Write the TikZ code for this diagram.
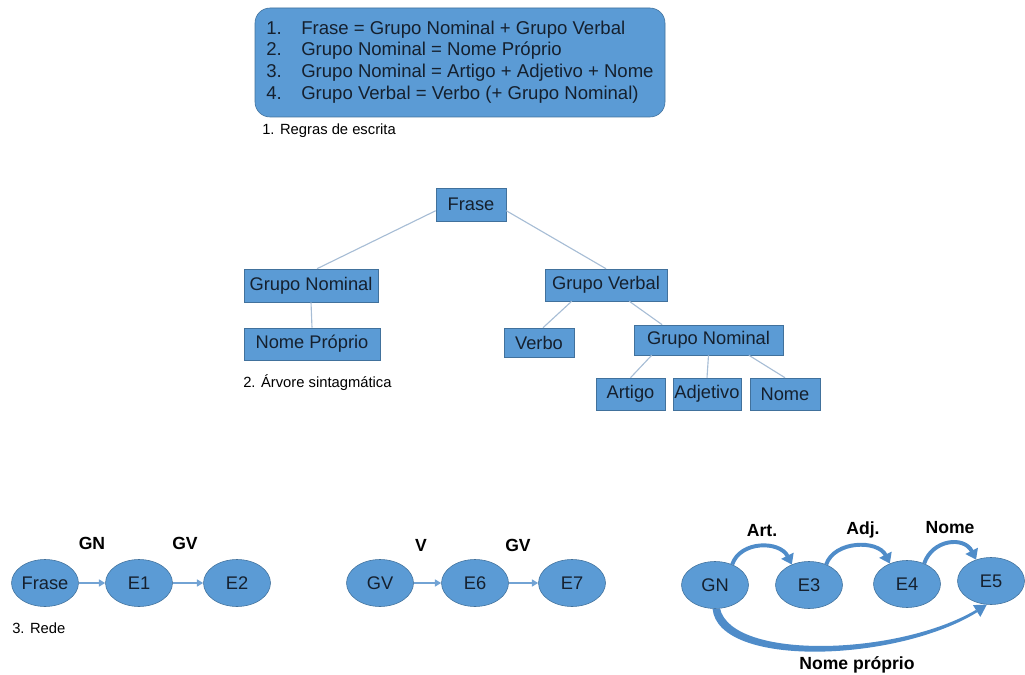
\documentclass[tikz,border=0pt]{standalone}
\usepackage{fontspec}
\setmainfont{Liberation Sans}
\usetikzlibrary{calc,positioning,shapes.geometric,arrows.meta}
\newdimen\pxu \pxu=0.025cm
\definecolor{boxblue}{HTML}{5B9BD5}
\definecolor{boxline}{HTML}{41719C}
\definecolor{treeline}{HTML}{A7BDD5}
\definecolor{hopblue}{HTML}{4F8CC9}
\definecolor{ink}{HTML}{15202E}
\tikzset{
	rulebox/.style={draw=boxline, fill=boxblue, text=ink, rounded corners=15\pxu, inner sep=0pt, font=\fontsize{13.2}{15.4}\selectfont},
	word/.style={draw=boxline, fill=boxblue, text=ink, inner sep=0pt, font=\fontsize{13}{15}\selectfont},
	state/.style={ellipse, draw=boxline, fill=boxblue, text=ink, minimum width=67\pxu, minimum height=47\pxu, inner sep=0pt, font=\fontsize{13}{15}\selectfont},
	branch/.style={draw=treeline, line width=0.8pt},
	flow/.style={draw=hopblue!80, line width=1pt, -{Triangle[length=4.5pt,width=5pt]}},
	hop/.style={draw=hopblue, line width=2.8pt, -{Triangle[length=7pt,width=9.5pt]}},
	caption/.style={anchor=west, inner sep=0pt, font=\fontsize{10.5}{12}\selectfont},
	tag/.style={inner sep=0pt, font=\bfseries\fontsize{12.5}{14}\selectfont}
}

\begin{document}
\begin{tikzpicture}[x=0.025cm, y=-0.025cm]
		%%%%% START %%%%%
		\useasboundingbox (0, 0) rectangle (1025, 675);
		
		% regras
		\node[rulebox, minimum width=410\pxu, minimum height=109\pxu] (regras) at (460, 62.5) {%
			\begin{tabular}{@{}l@{\hspace{13.8pt}}l@{}}
				1. & Frase = Grupo Nominal + Grupo Verbal\\
				2. & Grupo Nominal = Nome Próprio\\
				3. & Grupo Nominal = Artigo + Adjetivo + Nome\\
				4. & Grupo Verbal = Verbo (+ Grupo Nominal)
			\end{tabular}};
		\node[caption] (cap1) at (262, 131) {1. Regras de escrita};
		
		% arvore
		\node[word, minimum width=70\pxu, minimum height=33\pxu] (frase) at (471, 204.5) {Frase};
		\node[word, minimum width=134\pxu, minimum height=33\pxu] (gn) at (311, 285.5) {Grupo Nominal};
		\node[word, minimum width=122\pxu, minimum height=32\pxu] (gv) at (606, 285) {Grupo Verbal};
		\node[word, minimum width=136\pxu, minimum height=32\pxu] (np) at (312, 344) {Nome Próprio};
		\node[word, minimum width=70\pxu, minimum height=29\pxu] (verbo) at (539, 342.5) {Verbo};
		\node[word, minimum width=149\pxu, minimum height=30\pxu] (gnb) at (708.5, 340) {Grupo Nominal};
		\node[word, minimum width=69\pxu, minimum height=32\pxu] (artigo) at (630.5, 394) {Artigo};
		\node[word, minimum width=68\pxu, minimum height=32\pxu] (adjetivo) at (707, 394) {Adjetivo};
		\node[word, minimum width=70\pxu, minimum height=32\pxu] (nome) at (785, 394) {Nome};
		
		\draw[branch] (frase.190) -- ($(gn.north)+(6, 0)$);
		\draw[branch] (frase.-10) -- (gv.north);
		\draw[branch] (gn.south) -- (np.north);
		\draw[branch] ($(gv.south west)!0.22!(gv.south east)$) -- ($(verbo.north)+(4, 0)$);
		\draw[branch] ($(gv.south west)!0.69!(gv.south east)$) -- ($(gnb.north west)!0.19!(gnb.north east)$);
		\draw[branch] ($(gnb.south west)!0.12!(gnb.south east)$) -- (artigo.north);
		\draw[branch] (gnb.south) -- (adjetivo.north);
		\draw[branch] ($(gnb.south west)!0.77!(gnb.south east)$) -- (nome.north);
		
		\node[caption] (cap2) at (243, 383) {2. Árvore sintagmática};
		
		% rede
		\node[state] (fr) at (45, 583) {Frase};
		\node[state] (e1) at (139, 583) {E1};
		\node[state] (e2) at (237, 583) {E2};
		\node[tag] (lgn) at (92, 543) {GN};
		\node[tag] (lgv) at (185, 543) {GV};
		\draw[flow] (fr) -- (e1);
		\draw[flow] (e1) -- (e2);
		\node[caption] (cap3) at (12, 628) {3. Rede};
		
		\node[state] (gvr) at (380, 583) {GV};
		\node[state] (e6) at (475, 583) {E6};
		\node[state] (e7) at (572, 583) {E7};
		\node[tag] (lv) at (421, 545) {V};
		\node[tag] (lgvb) at (518, 545) {GV};
		\draw[flow] (gvr) -- (e6);
		\draw[flow] (e6) -- (e7);
		
		\node[state] (gnr) at (715, 585) {GN};
		\node[state] (e3) at (809, 585) {E3};
		\node[state] (e4) at (907, 584) {E4};
		\node[state] (e5) at (991, 581) {E5};
		\node[tag] (lart) at (762, 531) {Art.};
		\node[tag] (ladj) at (863, 530) {Adj.};
		\node[tag] (lnome) at (950, 528) {Nome};
		\draw[hop] (gnr.50) .. controls +(8, -24) and +(-12, -24) .. (e3.130);
		\draw[hop] (e3.50) .. controls +(8, -24) and +(-12, -24) .. (e4.130);
		\draw[hop] (e4.50) .. controls +(8, -24) and +(-12, -24) .. (e5.125);
		
		% tapered arrow GN -> E5
		\fill[hopblue] (gnr.-96) .. controls +(6, 60) and +(-80, 50) .. ($(e5.-100)+(-9.5, 7.5)$)
			-- ($(e5.-100)+(-10.9, 5.3)$) .. controls +(-78, 46) and +(12, 52) .. (gnr.-78) -- cycle;
		\fill[hopblue] (e5.-100) -- ($(e5.-100)+(-6.5, 12.3)$) -- ($(e5.-100)+(-13.9, 0.5)$) -- cycle;
		\node[tag] (lnp) at (857, 665) {Nome próprio};
		
		%%%%% END %%%%%
	\end{tikzpicture}
\end{document}
